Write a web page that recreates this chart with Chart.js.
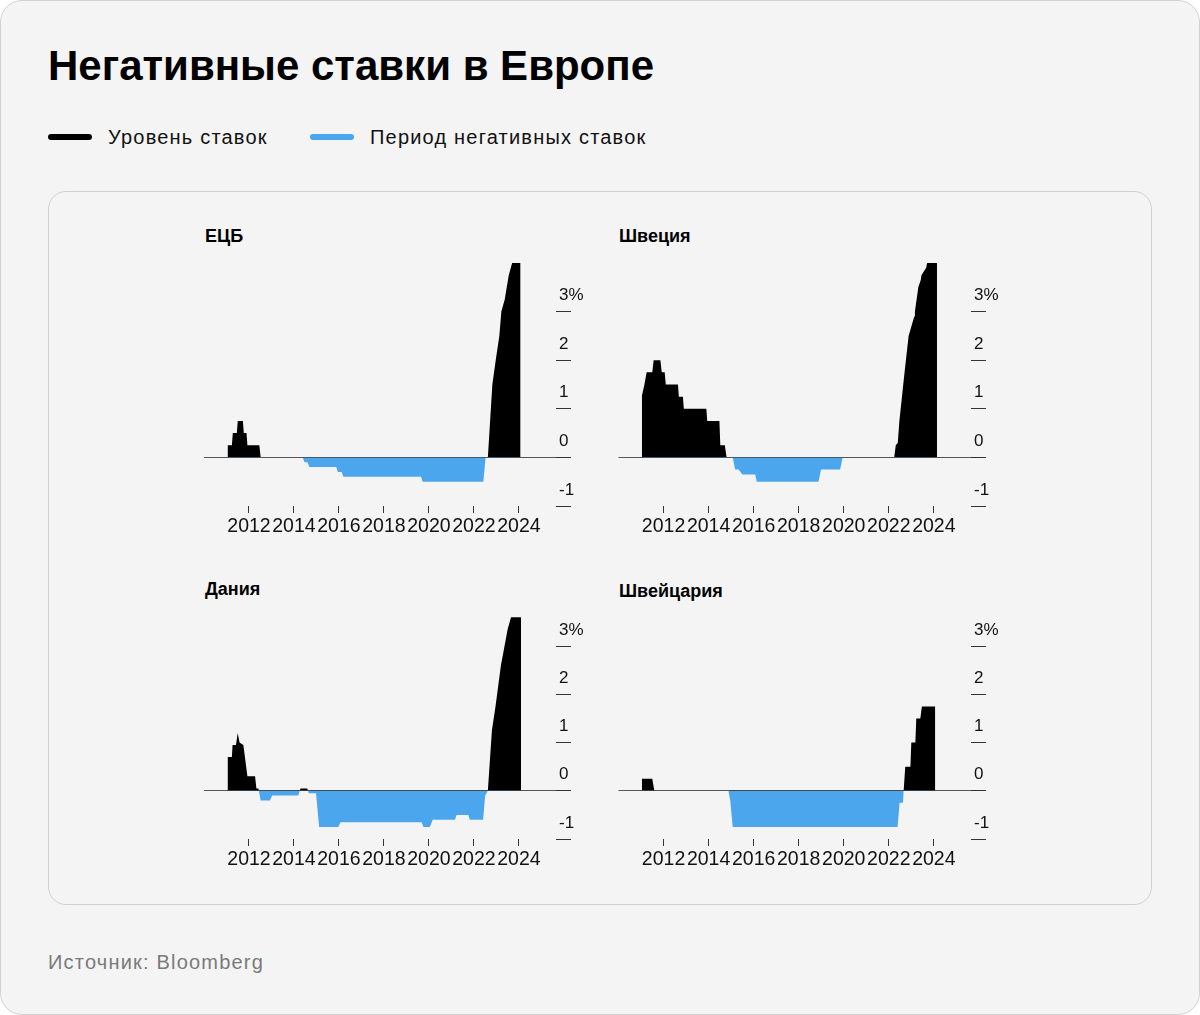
<!DOCTYPE html>
<html lang="ru">
<head>
<meta charset="utf-8">
<title>Негативные ставки в Европе</title>
<script src="https://cdn.jsdelivr.net/npm/chart.js@4.4.1/dist/chart.umd.min.js"></script>
<style>
  html, body { margin: 0; padding: 0; background: #fff; }
  body { width: 1200px; height: 1015px; position: relative; overflow: hidden;
         font-family: "Liberation Sans", Arial, sans-serif; color: #111; }
  .card { position: absolute; left: 0; top: 0; width: 1198px; height: 1013px;
          border: 1px solid #d2d2d2; border-radius: 22px; background: #f4f4f4; }
  .title { position: absolute; left: 48px; top: 45px; margin: 0; font-size: 42px; line-height: 42px;
           font-weight: 700; letter-spacing: 0; color: #000; white-space: nowrap; }
  .legend-item { position: absolute; top: 126px; height: 22px; line-height: 22px; font-size: 20px;
                 letter-spacing: 1.2px; white-space: nowrap; }
  .legend-item .swatch { position: absolute; left: 0; top: 8px; width: 44px; height: 6px; border-radius: 3px; }
  .legend-item span.label { position: absolute; left: 60px; top: 0; }
  .inner { position: absolute; left: 48px; top: 191px; width: 1102px; height: 712px;
           border: 1px solid #cfcfcf; border-radius: 18px; }
  .panel-title { position: absolute; font-size: 18px; line-height: 20px; font-weight: 700; color: #000; }
  canvas { position: absolute; }
  .source { position: absolute; left: 48px; top: 950px; font-size: 20px; line-height: 24px;
            letter-spacing: 1.2px; color: #7a7a7a; }
</style>
</head>
<body>
<div class="card"></div>
<h1 class="title">Негативные ставки в Европе</h1>
<div class="legend-item" style="left:48px"><div class="swatch" style="background:#000"></div><span class="label">Уровень ставок</span></div>
<div class="legend-item" style="left:310px"><div class="swatch" style="background:#4ba6ee"></div><span class="label">Период негативных ставок</span></div>
<div class="inner"></div>

<div class="panel-title" style="left:205px; top:226px">ЕЦБ</div>
<div class="panel-title" style="left:619px; top:226px">Швеция</div>
<div class="panel-title" style="left:205px; top:579px">Дания</div>
<div class="panel-title" style="left:619px; top:581px">Швейцария</div>

<canvas id="ecb_chart" width="420" height="293" style="left:194px; top:253px"></canvas>
<canvas id="sweden_chart" width="420" height="293" style="left:609px; top:253px"></canvas>
<canvas id="denmark_chart" width="420" height="291" style="left:194px; top:588px"></canvas>
<canvas id="swiss_chart" width="420" height="291" style="left:609px; top:588px"></canvas>

<div class="source">Источник: Bloomberg</div>

<script>
// ticks
const xTickYears = [2012, 2014, 2016, 2018, 2020, 2022, 2024];
const yTickValues = [-1, 0, 1, 2, 3];

// ЕЦБ, депозитная ставка, %
const ecbYears = [2011.04, 2011.24, 2011.28, 2011.46, 2011.50, 2011.73, 2011.77, 2011.89, 2011.93, 2012.46, 2012.52,
    2014.39, 2014.47, 2014.60, 2014.68, 2015.88, 2015.95, 2016.12, 2016.20, 2019.65, 2019.72, 2022.42, 2022.52,
    2022.62, 2022.72, 2022.82, 2022.97, 2023.13, 2023.22, 2023.37, 2023.46, 2023.55, 2023.70, 2024.08];
const ecbRates = [0.25, 0.25, 0.5, 0.5, 0.75, 0.75, 0.5, 0.5, 0.25, 0.25, 0,
    0, -0.1, -0.1, -0.2, -0.2, -0.3, -0.3, -0.4, -0.4, -0.5, -0.5, 0,
    0, 0.75, 1.5, 2.0, 2.5, 3.0, 3.25, 3.5, 3.75, 4.0, 4.0];

// Швеция
const swedenYears = [2011.03, 2011.15, 2011.25, 2011.50, 2011.56, 2011.86, 2011.92, 2012.05, 2012.10, 2012.64, 2012.68,
    2012.86, 2012.90, 2013.90, 2013.94, 2014.48, 2014.52, 2014.72, 2014.80, 2015.07, 2015.18, 2015.33, 2015.50,
    2016.07, 2016.14, 2018.88, 2018.99, 2019.84, 2019.95, 2022.24, 2022.31, 2022.40, 2022.47, 2022.70, 2022.88,
    2023.13, 2023.16, 2023.28, 2023.31, 2023.42, 2023.45, 2023.66, 2023.70, 2024.14];
const swedenRates = [1.25, 1.5, 1.75, 1.75, 2.0, 2.0, 1.75, 1.75, 1.5, 1.5, 1.25,
    1.25, 1.0, 1.0, 0.75, 0.75, 0.25, 0.25, 0, 0, -0.25, -0.25, -0.35,
    -0.35, -0.5, -0.5, -0.25, -0.25, 0, 0, 0.25, 0.3, 0.75, 1.75, 2.5,
    2.9, 3.0, 3.4, 3.5, 3.65, 3.75, 3.9, 4.0, 4.0];

// Дания
const denmarkYears = [2011.04, 2011.24, 2011.27, 2011.42, 2011.50, 2011.58, 2011.75, 2011.93, 2012.27, 2012.33, 2012.42,
    2012.52, 2012.93, 2013.03, 2014.19, 2014.29, 2014.59, 2014.66, 2014.98, 2015.12, 2015.97, 2016.07,
    2019.67, 2019.76, 2020.04, 2020.17, 2021.16, 2021.23, 2021.75, 2021.82, 2022.41, 2022.50, 2022.62,
    2022.80, 2022.96, 2023.20, 2023.30, 2023.50, 2023.65, 2024.10];
const denmarkRates = [0.7, 0.7, 0.95, 0.95, 1.2, 1.0, 0.95, 0.3, 0.3, 0.05, 0.05,
    -0.2, -0.2, -0.1, -0.1, 0.05, 0.05, -0.05, -0.05, -0.75, -0.75, -0.65,
    -0.65, -0.75, -0.75, -0.6, -0.6, -0.5, -0.5, -0.6, -0.6, -0.1, 0,
    1.25, 1.75, 2.6, 2.85, 3.35, 3.6, 3.6];

// Швейцария
const swissYears = [2011.03, 2011.50, 2011.59, 2014.88, 2014.96, 2015.07, 2022.39, 2022.48, 2022.63, 2022.66,
    2022.73, 2022.96, 2023.00, 2023.18, 2023.22, 2023.40, 2023.47, 2024.07];
const swissRates = [0.25, 0.25, 0, 0, -0.2, -0.75, -0.75, -0.25, -0.25, 0,
    0.5, 0.5, 1.0, 1.0, 1.5, 1.5, 1.75, 1.75];

const POSITIVE_COLOR = '#000000';
const NEGATIVE_COLOR = '#4ba6ee';

function makePanel(canvasId, years, rates, leftPad) {
    const ctx = document.getElementById(canvasId).getContext('2d');
    return new Chart(ctx, {
        type: 'line',
        data: {
            datasets: [{
                data: years.map((x, i) => ({ x: x, y: rates[i] })),
                fill: { target: 'origin', above: POSITIVE_COLOR, below: NEGATIVE_COLOR },
                borderWidth: 0,
                borderColor: 'transparent',
                pointRadius: 0,
                tension: 0
            }]
        },
        options: {
            responsive: false,
            animation: false,
            layout: { padding: { left: leftPad, top: 10, right: 0, bottom: 0 } },
            plugins: { legend: { display: false }, tooltip: { enabled: false } },
            scales: {
                x: {
                    type: 'linear',
                    min: 2010,
                    max: 2025.65,
                    afterBuildTicks: scale => { scale.ticks = xTickYears.map(v => ({ value: v })); },
                    afterFit: scale => { scale.height = 40; },
                    border: { display: false },
                    grid: { drawOnChartArea: false, tickLength: 7, tickColor: '#333', lineWidth: 1 },
                    ticks: {
                        autoSkip: false,
                        maxRotation: 0,
                        padding: 2,
                        color: '#111',
                        font: { family: '"Liberation Sans Narrow", "Liberation Sans", sans-serif', size: 19.5 },
                        callback: v => String(v)
                    }
                },
                y: {
                    position: 'right',
                    min: -1,
                    max: 4,
                    afterBuildTicks: scale => { scale.ticks = yTickValues.map(v => ({ value: v })); },
                    afterFit: scale => { scale.width = 58; },
                    border: { display: false },
                    grid: {
                        color: c => (c.tick && c.tick.value === 0 ? '#555' : 'transparent'),
                        tickColor: '#333',
                        tickLength: 15,
                        lineWidth: 1
                    },
                    ticks: {
                        padding: -12,
                        labelOffset: -16,
                        color: '#111',
                        font: { family: '"Liberation Sans", Arial, sans-serif', size: 17 },
                        callback: v => (v === 3 ? '3%' : String(v))
                    }
                }
            }
        }
    });
}

makePanel('ecb_chart', ecbYears, ecbRates, 10);
makePanel('sweden_chart', swedenYears, swedenRates, 9.5);
makePanel('denmark_chart', denmarkYears, denmarkRates, 10);
makePanel('swiss_chart', swissYears, swissRates, 9.5);
</script>
</body>
</html>
